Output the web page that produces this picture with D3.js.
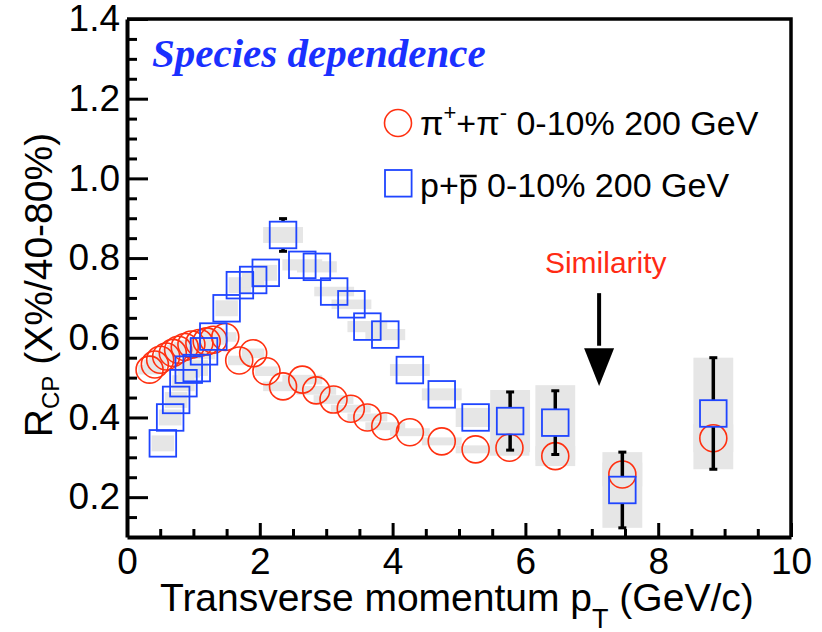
<!DOCTYPE html>
<html>
<head>
<meta charset="utf-8">
<script src="https://cdn.jsdelivr.net/npm/d3@7"></script>
<style>
  body { margin: 0; background: #fff; }
</style>
</head>
<body>
<div id="chart"></div>
<script>
// pi+ + pi-  0-10% / 40-80%
var piPt   = [0.34, 0.42, 0.50, 0.59, 0.69, 0.77, 0.87, 0.97, 1.09, 1.20, 1.30, 1.48, 1.69, 1.90, 2.10,
              2.35, 2.64, 2.85, 3.11, 3.37, 3.62, 3.89, 4.26, 4.74, 5.25, 5.76, 6.45, 7.46, 8.83];
var piR    = [0.520, 0.533, 0.545, 0.553, 0.562, 0.570, 0.577, 0.583, 0.587, 0.591, 0.595, 0.602, 0.543, 0.561, 0.516,
              0.478, 0.495, 0.468, 0.445, 0.422, 0.400, 0.378, 0.363, 0.340, 0.320, 0.324, 0.303, 0.257, 0.348];
var piStat = [0.005, 0.005, 0.005, 0.005, 0.005, 0.005, 0.005, 0.005, 0.005, 0.005, 0.005, 0.006, 0.006, 0.007, 0.007,
              0.008, 0.008, 0.009, 0.009, 0.010, 0.010, 0.011, 0.012, 0.014, 0.016, 0.020, 0.025, 0.030, 0.030];
var piSys  = [0.012, 0.012, 0.012, 0.012, 0.012, 0.012, 0.012, 0.012, 0.012, 0.012, 0.012, 0.012, 0.012, 0.012, 0.012,
              0.012, 0.012, 0.011, 0.011, 0.010, 0.010, 0.010, 0.010, 0.010, 0.010, 0.020, 0.025, 0.030, 0.035];

// p + pbar  0-10% / 40-80%
var pPt   = [0.54, 0.65, 0.74, 0.85, 0.93, 1.05, 1.16, 1.30, 1.50, 1.70, 1.90, 2.09, 2.35,
             2.64, 2.86, 3.12, 3.38, 3.62, 3.89, 4.26, 4.74, 5.25, 5.77, 6.45, 7.46, 8.83];
var pR    = [0.335, 0.400, 0.444, 0.486, 0.520, 0.524, 0.566, 0.603, 0.674, 0.732, 0.745, 0.763, 0.858,
             0.783, 0.778, 0.716, 0.684, 0.628, 0.608, 0.519, 0.458, 0.400, 0.391, 0.387, 0.218, 0.410];
var pStat = [0.008, 0.008, 0.008, 0.008, 0.008, 0.008, 0.008, 0.008, 0.010, 0.012, 0.014, 0.016, 0.041,
             0.018, 0.018, 0.018, 0.020, 0.020, 0.022, 0.024, 0.026, 0.030, 0.073, 0.080, 0.095, 0.140];
var pSys  = [0.020, 0.020, 0.020, 0.020, 0.020, 0.020, 0.020, 0.020, 0.020, 0.020, 0.020, 0.020, 0.020,
             0.014, 0.014, 0.012, 0.012, 0.014, 0.014, 0.015, 0.015, 0.024, 0.078, 0.094, 0.095, 0.140];

var xTicks = [0, 2, 4, 6, 8, 10];
var yTicks = [0.2, 0.4, 0.6, 0.8, 1.0, 1.2, 1.4];

var red = "#ff3010", blue = "#1f45ff", gray = "#e6e6e6";
var sans = "Liberation Sans, Arial, Helvetica, sans-serif";

var fullWidth = 822, fullHeight = 632;
var margin = {top: 19, right: 31, bottom: 95, left: 127};

var svg = d3.select("#chart").append("svg")
  .attr("width", fullWidth)
  .attr("height", fullHeight)
  .attr("font-family", sans);

var x = d3.scaleLinear().domain([0, 10]).range([margin.left, fullWidth - margin.right]);
var y = d3.scaleLinear().domain([0.1, 1.4]).range([fullHeight - margin.bottom, margin.top]);

var pi = piPt.map(function(d, i) { return {pt: d, r: piR[i], stat: piStat[i], sys: piSys[i]}; });
var pr = pPt.map(function(d, i) { return {pt: d, r: pR[i], stat: pStat[i], sys: pSys[i]}; });

// systematic boxes
function halfW(pt) { return pt < 2.2 ? 0.17 : 0.3; }
function sysBoxes(data) {
  svg.append("g").selectAll("rect")
    .data(data)
    .enter().append("rect")
      .attr("x", function(d) { return x(d.pt - halfW(d.pt)); })
      .attr("width", function(d) { return x(d.pt + halfW(d.pt)) - x(d.pt - halfW(d.pt)); })
      .attr("y", function(d) { return y(d.r + d.sys); })
      .attr("height", function(d) { return y(d.r - d.sys) - y(d.r + d.sys); })
      .attr("fill", gray);
}
sysBoxes(pi);
sysBoxes(pr);

// stat error bars, only the part outside the marker
function errBars(data, half) {
  var g = svg.append("g").attr("stroke", "#000");
  data.forEach(function(d) {
    var cx = x(d.pt), cy = y(d.r);
    var top = y(d.r + d.stat), bot = y(d.r - d.stat);
    if (cy - top > half + 1) {
      g.append("line").attr("x1", cx).attr("x2", cx).attr("y1", top).attr("y2", cy - half).attr("stroke-width", 3.5);
      g.append("line").attr("x1", cx - 4).attr("x2", cx + 4).attr("y1", top).attr("y2", top).attr("stroke-width", 3);
    }
    if (bot - cy > half + 1) {
      g.append("line").attr("x1", cx).attr("x2", cx).attr("y1", cy + half).attr("y2", bot).attr("stroke-width", 3.5);
      g.append("line").attr("x1", cx - 4).attr("x2", cx + 4).attr("y1", bot).attr("y2", bot).attr("stroke-width", 3);
    }
  });
}

errBars(pi, 13.5);
svg.append("g").selectAll("circle")
  .data(pi)
  .enter().append("circle")
    .attr("cx", function(d) { return x(d.pt); })
    .attr("cy", function(d) { return y(d.r); })
    .attr("r", 13.5)
    .attr("fill", "none")
    .attr("stroke", red)
    .attr("stroke-width", 1.6);

errBars(pr, 13.3);
svg.append("g").selectAll("rect")
  .data(pr)
  .enter().append("rect")
    .attr("x", function(d) { return x(d.pt) - 13.3; })
    .attr("y", function(d) { return y(d.r) - 13.3; })
    .attr("width", 26.6)
    .attr("height", 26.6)
    .attr("fill", "none")
    .attr("stroke", blue)
    .attr("stroke-width", 1.8);

// axes, ticks pointing inward
var yMinor = d3.range(0.15, 1.4, 0.05).filter(function(v) { return Math.abs(v / 0.2 - Math.round(v / 0.2)) > 0.01; });
var xMinor = d3.range(0.5, 10, 0.5).filter(function(v) { return v % 2 !== 0; });

svg.append("g")
  .attr("transform", "translate(" + x(0) + ",0)")
  .call(d3.axisLeft(y).tickValues(yMinor).tickSize(-10).tickFormat(""))
  .call(function(g) { g.select(".domain").remove(); g.selectAll("line").attr("stroke-width", 3); });

var yAxis = svg.append("g")
  .attr("transform", "translate(" + x(0) + ",0)")
  .call(d3.axisLeft(y).tickValues(yTicks).tickSize(-21).tickSizeOuter(0).tickPadding(7).tickFormat(d3.format(".1f")));
yAxis.select(".domain").attr("stroke-width", 4);
yAxis.selectAll("line").attr("stroke-width", 3);
yAxis.selectAll("text").attr("font-size", 37).attr("font-family", sans);

svg.append("g")
  .attr("transform", "translate(0," + y(0.1) + ")")
  .call(d3.axisBottom(x).tickValues(xMinor).tickSize(-8).tickFormat(""))
  .call(function(g) { g.select(".domain").remove(); g.selectAll("line").attr("stroke-width", 3); });

var xAxis = svg.append("g")
  .attr("transform", "translate(0," + y(0.1) + ")")
  .call(d3.axisBottom(x).tickValues(xTicks).tickSize(-14).tickSizeOuter(0).tickPadding(11).tickFormat(d3.format("d")));
xAxis.select(".domain").attr("stroke-width", 4);
xAxis.selectAll("line").attr("stroke-width", 3);
xAxis.selectAll("text").attr("font-size", 37).attr("font-family", sans);

// frame top / right
svg.append("path")
  .attr("d", "M" + x(0) + "," + y(1.4) + "H" + x(10) + "V" + y(0.1))
  .attr("fill", "none")
  .attr("stroke", "#000")
  .attr("stroke-width", 3.5);

// axis titles
var xt = svg.append("text").attr("x", 160).attr("y", 611).attr("font-size", 39).attr("fill", "#000");
xt.append("tspan").text("Transverse momentum p");
xt.append("tspan").attr("font-size", 27).attr("dy", 17).text("T");
xt.append("tspan").attr("dy", -17).text(" (GeV/c)");

var yt = svg.append("text")
  .attr("transform", "translate(52,285) rotate(-90)")
  .attr("text-anchor", "middle")
  .attr("font-size", 39)
  .attr("fill", "#000");
yt.append("tspan").text("R");
yt.append("tspan").attr("font-size", 24).attr("dy", 7).text("CP");
yt.append("tspan").attr("dy", -7).text(" (X%/40-80%)");

// title
svg.append("text")
  .attr("x", 152).attr("y", 67)
  .attr("font-family", "Liberation Serif, Times New Roman, serif")
  .attr("font-weight", "bold").attr("font-style", "italic")
  .attr("font-size", 41)
  .attr("fill", "#1a30ff")
  .text("Species dependence");

// legend
svg.append("circle").attr("cx", 398).attr("cy", 123).attr("r", 13.5)
  .attr("fill", "none").attr("stroke", red).attr("stroke-width", 1.6);
svg.append("rect").attr("x", 385).attr("y", 170).attr("width", 26.6).attr("height", 26.6)
  .attr("fill", "none").attr("stroke", blue).attr("stroke-width", 1.8);

var l1 = svg.append("text").attr("x", 420).attr("y", 135).attr("font-size", 34).attr("fill", "#000");
l1.append("tspan").text("\u03c0");
l1.append("tspan").attr("font-size", 22).attr("dy", -15).text("+");
l1.append("tspan").attr("dy", 15).text("+\u03c0");
l1.append("tspan").attr("font-size", 22).attr("dy", -15).text("-");
l1.append("tspan").attr("dy", 15).text(" 0-10% 200 GeV");

var l2 = svg.append("text").attr("x", 420).attr("y", 197).attr("font-size", 34).attr("fill", "#000")
  .text("p+p 0-10% 200 GeV");
var ext = l2.node().getExtentOfChar(2);
svg.append("line")
  .attr("x1", ext.x + 1).attr("x2", ext.x + ext.width - 1)
  .attr("y1", 176).attr("y2", 176)
  .attr("stroke", "#000").attr("stroke-width", 2.5);

// similarity arrow
var ax = x(7.11);
svg.append("line")
  .attr("x1", ax).attr("x2", ax)
  .attr("y1", y(0.712)).attr("y2", y(0.58))
  .attr("stroke", "#000").attr("stroke-width", 4);
svg.append("path")
  .attr("d", "M" + (ax - 15) + "," + y(0.574) + "L" + (ax + 15) + "," + y(0.574) + "L" + ax + "," + y(0.479) + "Z")
  .attr("fill", "#000");
svg.append("text")
  .attr("x", x(7.21)).attr("y", y(0.7625))
  .attr("text-anchor", "middle")
  .attr("font-size", 30)
  .attr("fill", "#ff2a14")
  .text("Similarity");
</script>
</body>
</html>
